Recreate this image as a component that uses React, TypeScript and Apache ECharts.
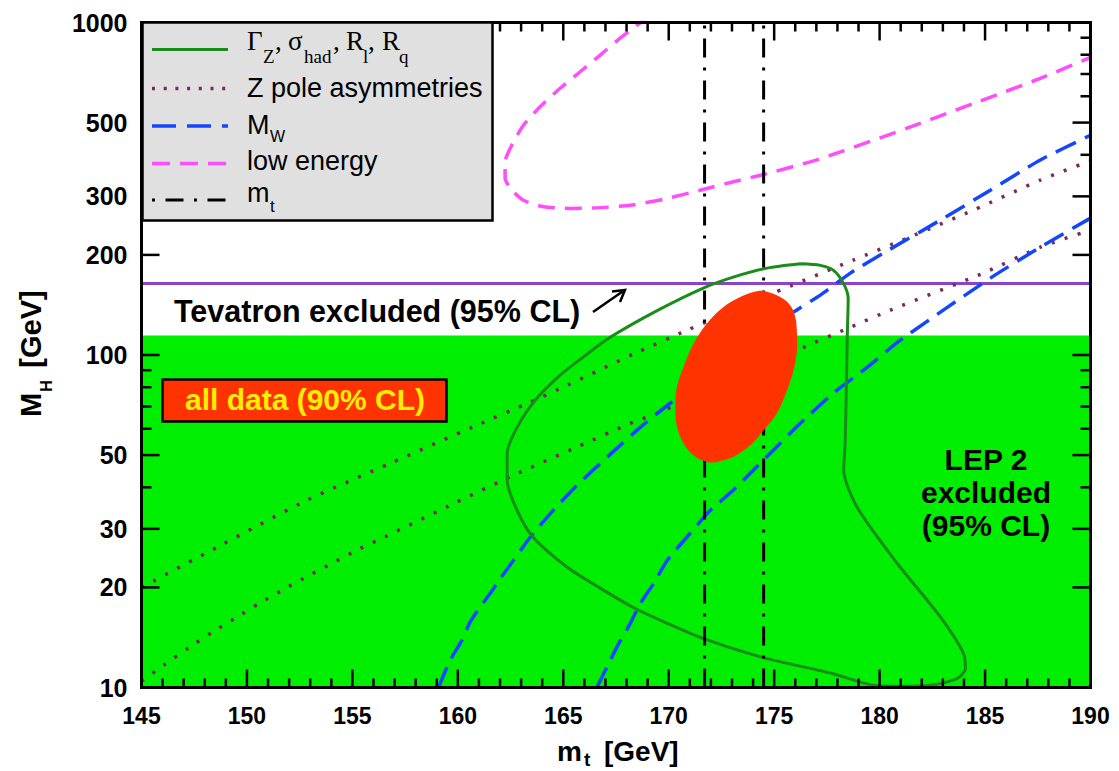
import React, { useEffect, useRef } from 'react';
import * as echarts from 'echarts';

// ---------- axes ----------
const X_MIN = 145;
const X_MAX = 190;
const X_INTERVAL = 5;
const X_MAJOR_TICKS = [145, 150, 155, 160, 165, 170, 175, 180, 185, 190];
const Y_MIN = 10;
const Y_MAX = 1000;
const Y_LABELED_TICKS = [10, 20, 30, 50, 100, 200, 300, 500, 1000];
const Y_MINOR_TICKS = [40, 60, 70, 80, 90, 400, 600, 700, 800, 900];

// ---------- reference values ----------
const LEP_LIMIT = 114.4; // GeV, LEP 2 excluded below
const TEVATRON_LINE = 164; // GeV
const MT_BAND = [171.7, 174.5]; // GeV

// ---------- contours: [m_t, M_H] ----------
const gammaZContour = [
  [176.24, 188], [177.19, 186], [177.8, 180], [178.28, 164.5], [178.51, 148], [178.47, 116],
  [178.42, 78.4], [178.37, 55.4], [178.3, 45.0], [178.94, 34.8], [180.84, 23.6], [182.88, 16.3],
  [183.97, 12.7], [184.07, 11.4], [183.69, 10.65], [182.41, 10.15], [180.98, 10.08], [179.56, 10.2],
  [177.8, 11.0], [174.48, 12.3], [171.83, 13.9], [169.93, 15.6], [168.32, 17.4], [166.75, 19.9],
  [165.19, 23.0], [163.57, 28.3], [162.81, 34.1], [162.34, 42.0], [162.34, 50.6], [162.81, 60.6],
  [163.67, 73.1], [164.85, 87.0], [165.94, 98.5], [167.22, 113], [169.45, 136], [171.64, 159],
  [173.06, 171.5], [174.67, 182.5], [176.24, 188],
];

const zPoleUpper = [
  [145.0, 20.0], [148.82, 26.9], [152.85, 36.6], [156.79, 47.2], [160.73, 60.8], [163.43, 72.1],
  [165.19, 81.1], [168.32, 100.6], [170.88, 118.8], [174.96, 153.5], [178.75, 192.9],
  [181.31, 224.6], [184.45, 272.8], [187.62, 335.7], [190.0, 383.8],
];

const zPoleLower = [
  [145.0, 10.45], [146.11, 11.74], [147.22, 13.14], [148.33, 14.62], [149.48, 16.22],
  [150.62, 17.95], [151.77, 19.78], [152.96, 21.75], [154.15, 23.85], [155.33, 26.1],
  [156.55, 28.4], [159.55, 35.1], [162.64, 43.5], [165.72, 53.1], [168.17, 62.2], [169.45, 66.8],
  [176.1, 103.4], [178.61, 121.2], [180.51, 136.4], [184.92, 176.3], [187.62, 211], [190.0, 237.5],
];

const mwUpper = [
  [159.08, 10], [159.63, 12.06], [160.19, 13.86], [160.58, 15.73], [161.06, 17.46], [161.53, 19.16],
  [162.01, 21.26], [162.64, 24.13], [163.43, 28.3], [164.52, 34.1], [165.66, 40.6], [167.08, 49.3],
  [168.65, 60.6], [170.07, 71.6], [175.91, 134.5], [177.19, 151.4], [178.61, 176.3],
  [180.18, 202.5], [182.88, 254.5], [185.25, 313], [187.62, 386], [190.0, 458],
];

const mwLower = [
  [166.59, 10], [167.07, 11.52], [167.54, 13.23], [168.17, 15.56], [168.65, 17.87], [169.28, 20.53],
  [169.93, 24.13], [171.02, 29.1], [171.97, 34.1], [173.06, 39.2], [174.2, 46.3], [175.29, 54.3],
  [176.24, 62.3], [177.8, 76.7], [179.42, 91.9], [180.98, 110.8], [185.25, 170.3], [187.62, 211],
  [190.0, 258],
];

const lowEnergy = [
  [169.1, 1050], [167.7, 897], [166.75, 798], [165.8, 711], [164.85, 634], [163.9, 558],
  [163.11, 491], [162.56, 428], [162.24, 381], [162.24, 340], [162.56, 313], [163.11, 292],
  [164.06, 279], [165.33, 276], [166.59, 277], [168.17, 282], [169.75, 294], [171.49, 313],
  [173.07, 332], [174.5, 349], [176.71, 381], [178.14, 408], [181.3, 481], [184.46, 571],
  [187.62, 679], [190.0, 786],
];

const allDataEllipse = [
  [174.5, 155.9], [175.29, 149.5], [175.76, 141.2], [176.0, 130.2], [176.08, 116.3], [176.08, 103.4],
  [175.92, 90.0], [175.61, 78.4], [175.13, 66.8], [174.5, 59.4], [173.87, 53.5], [173.07, 49.4],
  [172.29, 47.7], [171.81, 47.7], [171.18, 49.9], [170.7, 54.2], [170.39, 60.8], [170.31, 69.8],
  [170.39, 80.2], [170.7, 92.1], [171.18, 108.3], [171.81, 124.4], [172.6, 139.5], [173.39, 149.5],
  [174.02, 154.8],
];

const C_GREEN_FILL = '#00ee00';
const C_CONTOUR = '#1a8c1a';
const C_DOT = '#7a2a5a';
const C_BLUE = '#1446ff';
const C_MAGENTA = '#ff4dff';
const C_PURPLE = '#8a44cc';
const C_RED = '#ff3300';

const W = 1119;
const H = 771;
const GRID = { left: 141.5, right: 28.5, top: 22.5, bottom: 83.5 };

export default function App() {
  const ref = useRef<HTMLDivElement>(null);

  useEffect(() => {
    const el = ref.current;
    if (!el) return;
    const chart = echarts.init(el, null, { renderer: 'svg', width: W, height: H });

    const L = (v: number) => Math.log10(v);
    const toLog = (pts: number[][]) => pts.map(([x, y]) => [x, L(y)]);
    const sans = "'Liberation Sans', Arial, Helvetica, sans-serif";
    const serif = "'Liberation Serif', 'Times New Roman', serif";
    const majorLog = Y_LABELED_TICKS.map(L);
    const minorLog = Y_MINOR_TICKS.map(L);
    const xMinorTicks = X_MAJOR_TICKS.slice(0, -1).flatMap((v) => [1, 2, 3, 4].map((d) => v + d));
    const ellipseLog = toLog(allDataEllipse);
    const yLo = L(Y_MIN);
    const yHi = L(Y_MAX);

    const line = (name: string, data: any[], color: string, width: number, type: any, smooth: number | boolean = 0.2, z = 3) => ({
      type: 'line',
      name,
      data,
      symbol: 'none',
      smooth,
      clip: true,
      silent: true,
      z,
      lineStyle: { color, width, type, cap: 'butt' },
    });

    const xBase = {
      type: 'value',
      min: X_MIN,
      max: X_MAX,
      interval: X_INTERVAL,
      splitLine: { show: false },
      minorSplitLine: { show: false },
      axisLine: { show: false },
      axisTick: { show: false },
      minorTick: { show: false },
    };
    const yBase = {
      type: 'value',
      min: yLo,
      max: yHi,
      splitLine: { show: false },
      axisLine: { show: false },
      axisTick: { show: false },
    };

    const text = (t: string, x: number, y: number, size: number, opts: any = {}) => ({
      type: 'text',
      x,
      y,
      z: 100,
      rotation: opts.rotation || 0,
      style: {
        text: t,
        fontSize: size,
        fontFamily: opts.family || sans,
        fontWeight: opts.weight || 'normal',
        fill: opts.fill || '#000',
        align: opts.align || 'left',
        verticalAlign: 'middle',
        lineHeight: opts.lineHeight,
      },
    });
    const seg = (x1: number, y1: number, x2: number, y2: number, stroke: string, lineWidth: number, lineDash?: number[]) => ({
      type: 'line',
      z: 100,
      shape: { x1, y1, x2, y2 },
      style: { stroke, lineWidth, lineDash },
    });

    // filled bar (used for frame and ticks)
    const bar = (x: number, y: number, w: number, h: number) => ({
      type: 'rect',
      shape: { x, y, width: w, height: h },
      style: { fill: '#000' },
    });

    const option: any = {
      animation: false,
      backgroundColor: '#fff',
      grid: { ...GRID, containLabel: false },
      xAxis: [
        {
          ...xBase,
          position: 'bottom',
          axisLabel: {
            show: true,
            margin: 17,
            fontSize: 23,
            fontWeight: 'bold',
            fontFamily: sans,
            color: '#000',
            showMinLabel: true,
            showMaxLabel: true,
          },
        },
      ],
      yAxis: [
        {
          ...yBase,
          position: 'left',
          axisLabel: {
            show: true,
            customValues: majorLog,
            margin: 14,
            fontSize: 25,
            fontWeight: 'bold',
            fontFamily: sans,
            color: '#000',
            formatter: (v: number) => String(Math.round(Math.pow(10, v))),
          },
        },
      ],
      series: [
        {
          type: 'line',
          name: 'LEP 2 excluded (95% CL)',
          data: [[X_MIN, L(LEP_LIMIT)], [X_MAX, L(LEP_LIMIT)]],
          symbol: 'none',
          silent: true,
          z: 1,
          lineStyle: { width: 0, color: C_GREEN_FILL },
          areaStyle: { color: C_GREEN_FILL, opacity: 1, origin: 'start' },
        },
        line('Tevatron excluded (95% CL)', toLog([[X_MIN, TEVATRON_LINE], [X_MAX, TEVATRON_LINE]]), C_PURPLE, 3, 'solid', false, 2),
        line('Z pole asymmetries', toLog(zPoleUpper), C_DOT, 3.5, [3, 10.5]),
        line('Z pole asymmetries', toLog(zPoleLower), C_DOT, 3.5, [3, 10.5]),
        line('M_W', toLog(mwUpper), C_BLUE, 3.5, [22, 10]),
        line('M_W', toLog(mwLower), C_BLUE, 3.5, [22, 10]),
        line('low energy', toLog(lowEnergy), C_MAGENTA, 3.5, [17, 10]),
        line('Γ_Z, σ_had, R_l, R_q', toLog(gammaZContour), C_CONTOUR, 3, 'solid', 0.25),
        line('m_t', toLog([[MT_BAND[0], Y_MIN], [MT_BAND[0], Y_MAX]]), '#000', 3, [19, 10, 3, 10], false, 4),
        line('m_t', toLog([[MT_BAND[1], Y_MIN], [MT_BAND[1], Y_MAX]]), '#000', 3, [19, 10, 3, 10], false, 4),
        {
          type: 'custom',
          name: 'all data (90% CL)',
          data: [ellipseLog[0]],
          silent: true,
          z: 10,
          renderItem: (params: any, api: any) => {
            const pts = ellipseLog.map((p) => api.coord(p));
            const children: any[] = [
              { type: 'polygon', shape: { points: pts, smooth: 0.35 }, style: { fill: C_RED } },
            ];
            // frame and inside ticks, positioned through the axes' scales
            const [xl, yb] = api.coord([X_MIN, yLo]);
            const [xr, yt] = api.coord([X_MAX, yHi]);
            const tw = 2.5;
            const xTick = (v: number, len: number) => {
              const x = api.coord([v, yLo])[0];
              children.push(bar(x - tw / 2, yb - len, tw, len));
              children.push(bar(x - tw / 2, yt, tw, len));
            };
            const yTick = (v: number, len: number) => {
              const y = api.coord([X_MIN, v])[1];
              children.push(bar(xl, y - tw / 2, len, tw));
              children.push(bar(xr - len, y - tw / 2, len, tw));
            };
            X_MAJOR_TICKS.forEach((v) => xTick(v, 18));
            xMinorTicks.forEach((v) => xTick(v, 9));
            majorLog.forEach((v) => yTick(v, 18));
            minorLog.forEach((v) => yTick(v, 10));
            const fw = 3;
            children.push(bar(xl - fw / 2, yb - fw / 2, xr - xl + fw, fw));
            children.push(bar(xl - fw / 2, yt - fw / 2, xr - xl + fw, fw));
            children.push(bar(xl - fw / 2, yt - fw / 2, fw, yb - yt + fw));
            children.push(bar(xr - fw / 2, yt - fw / 2, fw, yb - yt + fw));
            return { type: 'group', children };
          },
        },
      ],
      graphic: [
        // legend box
        {
          type: 'rect',
          z: 100,
          shape: { x: 142.5, y: 22.5, width: 350, height: 198 },
          style: { fill: '#e0e0e0', stroke: '#000', lineWidth: 2.5 },
        },
        seg(152, 49.5, 228, 49.5, C_CONTOUR, 3),
        seg(152, 88.5, 228, 88.5, C_DOT, 3.5, [3, 8.7]),
        seg(152, 126, 228, 126, C_BLUE, 3.5, [24, 11]),
        seg(152, 163.5, 228, 163.5, C_MAGENTA, 3.5, [18, 10]),
        seg(152, 200, 228, 200, '#000', 3, [3, 10.5, 18, 10.5]),
        // row 1: Γ_Z, σ_had, R_l, R_q
        text('Γ', 247, 41, 27, { family: serif }),
        text('Z', 263, 56, 19, { family: serif }),
        text(',', 275, 41, 27, { family: serif }),
        text('σ', 288, 41, 27, { family: serif }),
        text('had', 304, 56, 19, { family: serif }),
        text(',', 333, 41, 27, { family: serif }),
        text('R', 346, 41, 27, { family: serif }),
        text('l', 363, 56, 19, { family: serif }),
        text(',', 368, 41, 27, { family: serif }),
        text('R', 382, 41, 27, { family: serif }),
        text('q', 399, 56, 19, { family: serif }),
        // rows 2-5
        text('Z pole asymmetries', 247, 88, 27),
        text('M', 247, 124.5, 27),
        text('W', 270, 136, 16),
        text('low energy', 247, 161, 27),
        text('m', 247, 193, 27),
        text('t', 270, 206, 17),
        // annotations
        text('Tevatron excluded (95% CL)', 174, 311, 30.5, { weight: 'bold' }),
        seg(593, 312, 624, 290.5, '#000', 2.5),
        {
          type: 'polyline',
          z: 100,
          shape: { points: [[612, 291.5], [625, 290], [620, 302]] },
          style: { stroke: '#000', lineWidth: 2.5, fill: null },
        },
        {
          type: 'rect',
          z: 100,
          shape: { x: 162.5, y: 379.5, width: 284, height: 42 },
          style: { fill: C_RED, stroke: '#000', lineWidth: 2.5 },
        },
        text('all data (90% CL)', 305, 399, 30, { weight: 'bold', fill: '#ffee00', align: 'center' }),
        text('LEP 2\nexcluded\n(95% CL)', 986, 492.5, 30, { weight: 'bold', align: 'center', lineHeight: 33 }),
        // axis titles
        text('m', 557, 751, 28, { weight: 'bold' }),
        text('t', 584, 759, 19, { weight: 'bold' }),
        text('[GeV]', 604, 751, 28, { weight: 'bold' }),
        text('[GeV]', 31, 329, 29, { weight: 'bold', align: 'center', rotation: Math.PI / 2 }),
        text('M', 31, 405, 29, { weight: 'bold', align: 'center', rotation: Math.PI / 2 }),
        text('H', 46, 386, 16, { weight: 'bold', align: 'center', rotation: Math.PI / 2 }),
      ],
    };

    chart.setOption(option);
    return () => chart.dispose();
  }, []);

  return <div ref={ref} style={{ position: 'absolute', left: 0, top: 0, width: W, height: H }} />;
}
